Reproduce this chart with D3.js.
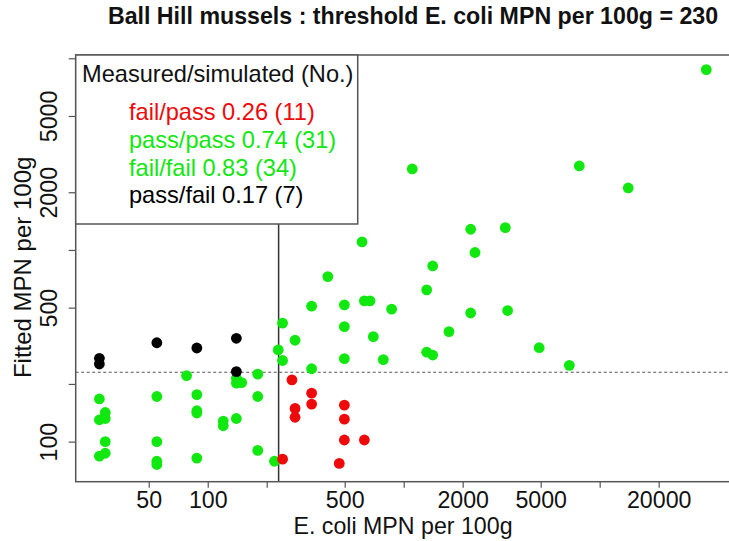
<!DOCTYPE html>
<html>
<head>
<meta charset="utf-8">
<script src="https://cdn.jsdelivr.net/npm/d3@7"></script>
<style>
  html, body { margin: 0; padding: 0; background: #ffffff; }
  svg { display: block; font-family: "Liberation Sans", Arial, Helvetica, sans-serif; }
</style>
</head>
<body>
<svg id="chart" width="729" height="541"></svg>
<script>
// E. coli MPN per 100g: measured (x) against fitted (y), by outcome group
const threshold = 230;

// measured fail / simulated pass
const failPassMeasured = [241, 269, 279, 279, 339, 339, 498, 498, 498, 469, 630];
const failPassFitted   = [81, 210, 149, 134, 179, 157, 155, 131, 102, 77, 102];

// measured pass / simulated pass
const passPassMeasured = [28, 30, 28, 30, 30, 28, 30, 55, 55, 55, 55, 78, 88, 88, 88, 88,
                          120, 120, 140, 140, 149, 140, 180, 180, 180, 219];
const passPassFitted   = [167, 142, 130, 132, 100, 84, 87, 172, 100, 79, 76, 221, 176, 145, 141, 82,
                          128, 121, 214, 202, 203, 132, 225, 172, 90, 79];

// measured fail / simulated fail
const failFailMeasured = [229, 241, 241, 279, 339, 339, 410, 498, 498, 498, 613, 630, 673, 868,
                          700, 787, 1310, 1406, 1106, 2197, 3300, 2311, 2197, 3390, 1702, 1310,
                          1406, 4913, 7000, 7869, 13990, 34990];
const failFailFitted   = [301, 265, 415, 338, 509, 240, 726, 517, 398, 271, 1101, 542, 542, 491,
                          353, 268, 619, 825, 2646, 1282, 1307, 970, 469, 483, 375, 293,
                          283, 309, 250, 2743, 2106, 8720];

// measured pass / simulated fail
const passFailMeasured = [28, 28, 55, 88, 140, 140];
const passFailFitted   = [272, 254, 328, 308, 346, 232];

const xTicks = [50, 100, 200, 500, 1000, 2000, 5000, 10000, 20000];
const xTickLabels = ["50", "100", "", "500", "", "2000", "5000", "", "20000"];
const yTicks = [100, 200, 500, 1000, 2000, 5000, 10000];
const yTickLabels = ["100", "", "500", "", "2000", "5000", ""];

const legendTitle = "Measured/simulated (No.)";
const legendLabels = ["fail/pass 0.26 (11)", "pass/pass 0.74 (31)", "fail/fail 0.83 (34)", "pass/fail 0.17 (7)"];

const RED = "#ee0a0a", GREEN = "#10e810", BLACK = "#000000";
const legendColors = [RED, GREEN, GREEN, BLACK];

const groups = [
  { xs: passPassMeasured, ys: passPassFitted, color: GREEN },
  { xs: failFailMeasured, ys: failFailFitted, color: GREEN },
  { xs: passFailMeasured, ys: passFailFitted, color: BLACK },
  { xs: failPassMeasured, ys: failPassFitted, color: RED }
];

const svg = d3.select("#chart");
const plot = { left: 75.7, right: 730.3, top: 55, bottom: 481.7 };

const x = d3.scaleLog().domain([21.2, 46400]).range([plot.left, plot.right]);
const y = d3.scaleLog().domain([61.8, 10400]).range([plot.bottom, plot.top]);

const FS = 23.2;
const AXIS_COL = "#555";

// title
svg.append("text")
  .attr("x", 413)
  .attr("y", 24)
  .attr("text-anchor", "middle")
  .attr("font-weight", "bold")
  .attr("font-size", FS)
  .attr("fill", "#111")
  .text("Ball Hill mussels : threshold E. coli MPN per 100g = " + threshold);

// x axis
const xAxis = svg.append("g")
  .attr("transform", `translate(0,${plot.bottom})`)
  .call(d3.axisBottom(x).tickValues(xTicks).tickFormat((d, i) => xTickLabels[i]).tickSize(6).tickPadding(2));
xAxis.select(".domain").remove();
xAxis.selectAll(".tick line").attr("stroke", AXIS_COL).attr("stroke-width", 1.2);
xAxis.selectAll(".tick text")
  .attr("font-size", FS).attr("fill", "#111")
  .attr("font-family", "Liberation Sans, Arial, sans-serif")
  .attr("dy", null).attr("y", 26);

// y axis
const yAxis = svg.append("g")
  .attr("transform", `translate(${plot.left},0)`)
  .call(d3.axisLeft(y).tickValues(yTicks).tickFormat((d, i) => yTickLabels[i]).tickSize(7));
yAxis.select(".domain").remove();
yAxis.selectAll(".tick line").attr("stroke", AXIS_COL).attr("stroke-width", 1.2);
yAxis.selectAll(".tick text")
  .attr("font-size", FS).attr("fill", "#111")
  .attr("font-family", "Liberation Sans, Arial, sans-serif")
  .attr("x", null).attr("dy", null)
  .attr("text-anchor", "middle")
  .attr("transform", "translate(-18.5,0) rotate(-90)");

// axis titles
svg.append("text")
  .attr("x", (plot.left + plot.right) / 2)
  .attr("y", 534)
  .attr("text-anchor", "middle")
  .attr("font-size", FS)
  .attr("fill", "#111")
  .text("E. coli MPN per 100g");

svg.append("text")
  .attr("transform", `translate(30.5,${(plot.top + plot.bottom) / 2 - 1}) rotate(-90)`)
  .attr("text-anchor", "middle")
  .attr("font-size", 24)
  .attr("fill", "#111")
  .text("Fitted MPN per 100g");

// threshold guides
svg.append("line")
  .attr("x1", plot.left).attr("x2", plot.right)
  .attr("y1", y(threshold)).attr("y2", y(threshold))
  .attr("stroke", "#555").attr("stroke-width", 1.1)
  .attr("stroke-dasharray", "3,2.5");

svg.append("line")
  .attr("x1", x(threshold)).attr("x2", x(threshold))
  .attr("y1", plot.top).attr("y2", plot.bottom)
  .attr("stroke", "#333").attr("stroke-width", 1.5);

// points
groups.forEach(g => {
  svg.append("g").selectAll("circle")
    .data(g.xs.map((v, i) => [v, g.ys[i]]))
    .join("circle")
    .attr("cx", d => x(d[0]))
    .attr("cy", d => y(d[1]))
    .attr("r", 5.4)
    .attr("fill", g.color);
});

// plot frame
svg.append("rect")
  .attr("x", plot.left).attr("y", plot.top)
  .attr("width", plot.right - plot.left).attr("height", plot.bottom - plot.top)
  .attr("fill", "none").attr("stroke", AXIS_COL).attr("stroke-width", 1.5);

// legend
const LFS = 23.6;
const lg = svg.append("g");
lg.append("rect")
  .attr("x", plot.left).attr("y", plot.top)
  .attr("width", 282).attr("height", 169)
  .attr("fill", "#ffffff").attr("stroke", AXIS_COL).attr("stroke-width", 1.5);
lg.append("text")
  .attr("x", 82).attr("y", 81.5)
  .attr("font-size", LFS).attr("fill", "#111")
  .text(legendTitle);
lg.selectAll("text.entry")
  .data(legendLabels)
  .join("text")
  .attr("class", "entry")
  .attr("x", 129)
  .attr("y", (d, i) => 120 + i * 27.8)
  .attr("font-size", LFS)
  .attr("fill", (d, i) => legendColors[i])
  .text(d => d);
</script>
</body>
</html>
